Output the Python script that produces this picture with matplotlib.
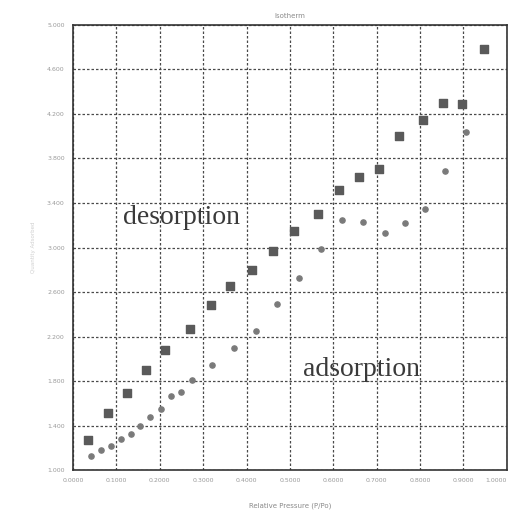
import numpy as np
import matplotlib.pyplot as plt

# isotherm data (relative pressure, quantity adsorbed)

des_x = [0.035, 0.081, 0.124, 0.168, 0.212, 0.270, 0.317, 0.363, 0.412, 0.461,
         0.510, 0.565, 0.613, 0.660, 0.706, 0.751, 0.807, 0.853, 0.896, 0.948]
des_y = [1.27, 1.51, 1.69, 1.90, 2.08, 2.27, 2.48, 2.65, 2.80, 2.97,
         3.15, 3.30, 3.52, 3.63, 3.71, 4.00, 4.15, 4.30, 4.29, 4.78]

ads_x = [0.041, 0.065, 0.088, 0.111, 0.133, 0.154, 0.177, 0.202, 0.225, 0.248,
         0.274, 0.321, 0.371, 0.423, 0.471, 0.521, 0.571, 0.619, 0.669, 0.719,
         0.765, 0.811, 0.857, 0.906]
ads_y = [1.13, 1.18, 1.22, 1.28, 1.32, 1.40, 1.48, 1.55, 1.67, 1.70,
         1.81, 1.94, 2.10, 2.25, 2.49, 2.73, 2.99, 3.25, 3.23, 3.13,
         3.22, 3.35, 3.69, 4.04]

x_ticks = np.linspace(0.0, 1.0, 11)
y_ticks = np.linspace(1.0, 5.0, 11)

fig = plt.figure(figsize=(5.14, 5.20), dpi=100)
ax = fig.add_axes([0.142, 0.096, 0.844, 0.856])

ax.scatter(des_x, des_y, marker='s', s=26, color='#5a5a5a', zorder=3)
ax.scatter(ads_x, ads_y, marker='o', s=14, color='#7a7a7a', zorder=3)

ax.set_xlim(0.0, 1.0)
ax.set_ylim(1.0, 5.0)
ax.set_xticks(x_ticks)
ax.set_yticks(y_ticks)
ax.set_xticklabels(['%.4f' % v for v in x_ticks])
ax.set_yticklabels(['%.3f' % v for v in y_ticks])
ax.tick_params(length=0, labelsize=4.5, labelcolor='#9a9a9a', pad=6)
ax.get_xticklabels()[-1].set_horizontalalignment('right')

ax.grid(True, color='#4a4a4a', linestyle=(0, (2, 1.6)), linewidth=0.9)
for s in ax.spines.values():
    s.set_color('#333333')
    s.set_linewidth(1.2)

ax.set_title('Isotherm', fontsize=5, color='#8a8a8a', pad=5)
ax.set_xlabel('Relative Pressure (P/Po)', fontsize=5, color='#8a8a8a', labelpad=14)
ax.set_ylabel('Quantity Adsorbed', fontsize=4, color='#d0d0d0', labelpad=8)

ax.text(0.251, 3.27, 'desorption', family='Liberation Serif', fontsize=20,
        color='#3a3a3a', ha='center', va='center')
ax.text(0.666, 1.90, 'adsorption', family='Liberation Serif', fontsize=20,
        color='#3a3a3a', ha='center', va='center')

fig.savefig('out.png', dpi=100)
